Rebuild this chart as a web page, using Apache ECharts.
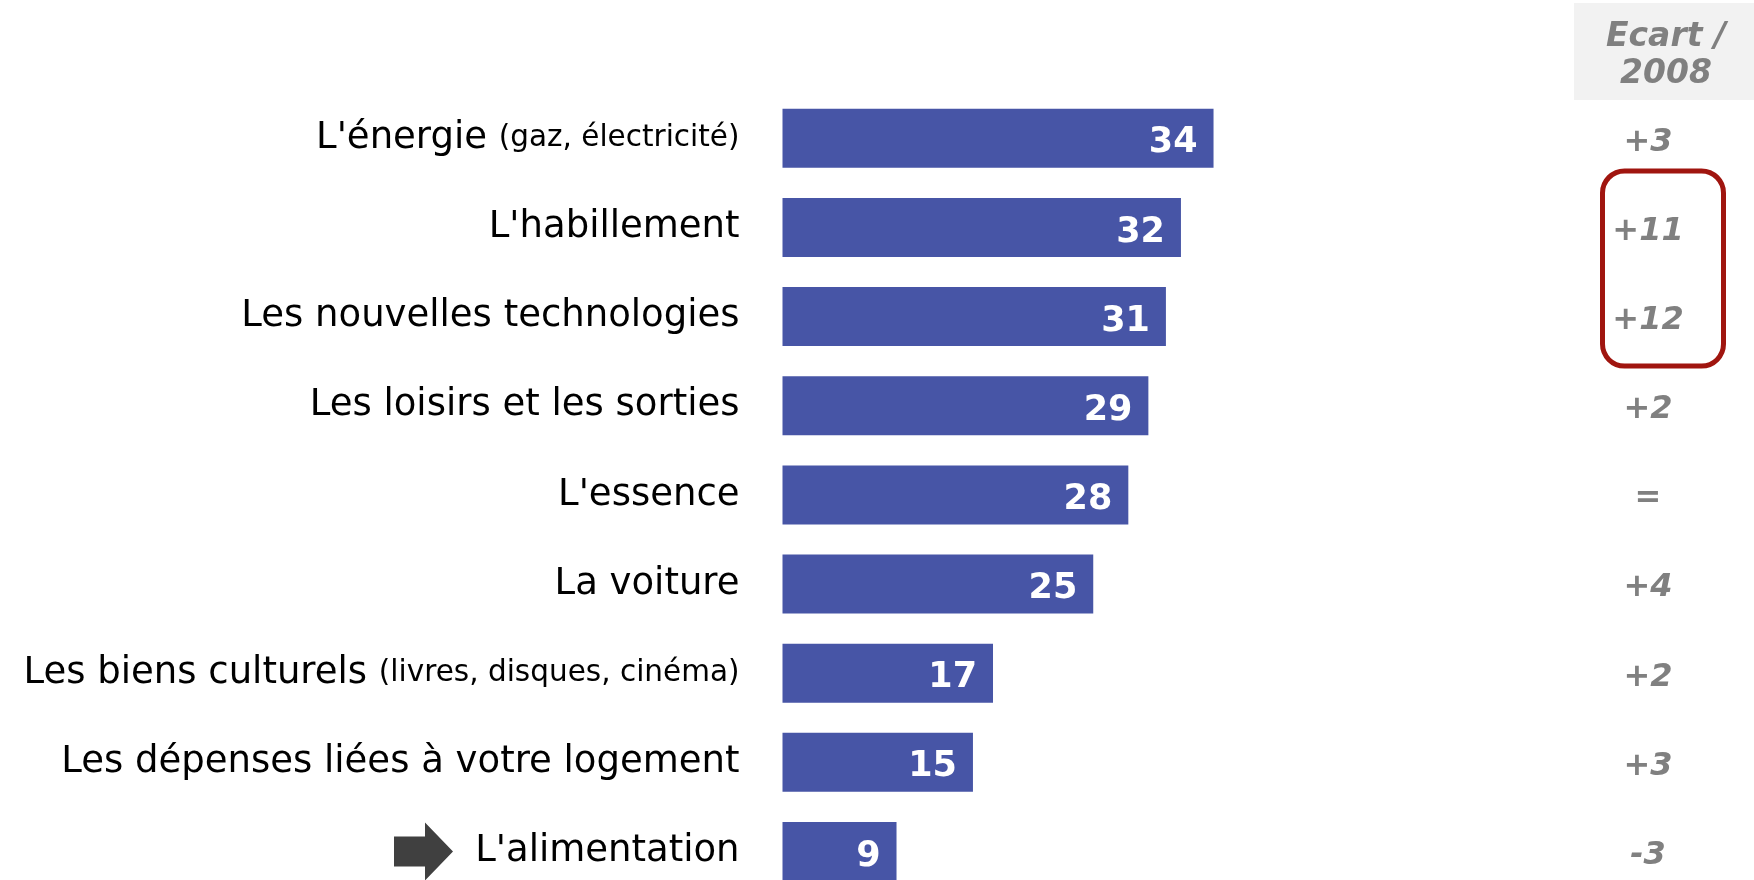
<!DOCTYPE html>
<html>
<head>
<meta charset="utf-8">
<script src="https://cdn.jsdelivr.net/npm/echarts@6/dist/echarts.min.js"></script>
<style>
html,body{margin:0;padding:0;background:#fff;overflow:hidden;width:1754px;height:880px;}
#chart{width:1754px;height:900px;}
</style>
</head>
<body>
<div id="chart"></div>
<script>
const categories = ["L'énergie", "L'habillement", "Les nouvelles technologies", "Les loisirs et les sorties", "L'essence", "La voiture", "Les biens culturels", "Les dépenses liées à votre logement", "L'alimentation"];
const subLabels = ["(gaz, électricité)", "", "", "", "", "", "(livres, disques, cinéma)", "", ""];
const values = [34.4, 31.8, 30.6, 29.2, 27.6, 24.8, 16.8, 15.2, 9.1];
const ecart = ["+3", "+11", "+12", "+2", "=", "+4", "+2", "+3", "-3"];
const ecartHeader = "Ecart /\n2008";
const highlighted = [1, 2];   // indices framed in red
const arrowIndex = 8;         // index pointed to by arrow

const chart = echarts.init(document.getElementById('chart'));
const font = "'DejaVu Sans', Verdana, sans-serif";

chart.setOption({
  animation: false,
  grid: { left: 782.5, top: 93.7, width: 626.5, height: 802.4, containLabel: false },
  xAxis: { type: 'value', min: 0, max: 50, show: false },
  yAxis: [
    {
      type: 'category', data: categories, inverse: true,
      axisLine: { show: false }, axisTick: { show: false }, splitLine: { show: false },
      axisLabel: {
        margin: 43,
        fontFamily: font, fontSize: 37, color: '#000',
        formatter: function (v, i) {
          return subLabels[i] ? v + ' {s|' + subLabels[i] + '}' : v;
        },
        rich: { s: { fontFamily: font, fontSize: 29.5, color: '#000' } }
      }
    },
    {
      type: 'category', data: ecart, inverse: true, position: 'right',
      axisLine: { show: false }, axisTick: { show: false }, splitLine: { show: false },
      axisLabel: {
        margin: 239, align: 'center',
        formatter: function (v) { return '{e|' + v + '}'; },
        rich: {
          e: { padding: [8, 0, 0, 0], fontFamily: font, fontSize: 32, fontWeight: 'bold', fontStyle: 'italic', color: '#808080' }
        }
      }
    }
  ],
  series: [{
    type: 'bar', data: values, yAxisIndex: 0, barWidth: 59,
    itemStyle: { color: '#4755a6' },
    label: {
      show: true, position: 'insideRight', distance: 16, offset: [0, 5],
      color: '#fff', fontFamily: font, fontSize: 35, fontWeight: 'bold',
      formatter: function (p) { return Math.round(p.value); }
    }
  }]
});

function addGraphics() {
  const y1 = chart.convertToPixel({ yAxisIndex: 0 }, categories[highlighted[0]]);
  const y2 = chart.convertToPixel({ yAxisIndex: 0 }, categories[highlighted[highlighted.length - 1]]);
  const ya = chart.convertToPixel({ yAxisIndex: 0 }, categories[arrowIndex]);
  chart.setOption({ graphic: [
    {
      type: 'rect', shape: { x: 1574, y: 3, width: 180, height: 97 },
      style: { fill: '#f2f2f2' }, z: 1
    },
    {
      type: 'text', x: 1666, y: 56, z: 2,
      style: {
        text: ecartHeader, x: 0, y: 0, align: 'center', verticalAlign: 'middle',
        font: "italic bold 33px 'DejaVu Sans', Verdana, sans-serif", fill: '#808080', lineHeight: 37
      }
    },
    {
      type: 'rect', z: 2,
      shape: { x: 1602.5, y: y1 - 56.5, width: 121, height: (y2 - y1) + 56.5 + 49.5, r: 22 },
      style: { fill: 'none', stroke: '#a0150f', lineWidth: 5 }
    },
    {
      type: 'polygon', z: 2,
      shape: { points: [[394, ya - 15], [425, ya - 15], [425, ya - 29], [453, ya], [425, ya + 29], [425, ya + 15], [394, ya + 15]] },
      style: { fill: '#404040' }
    }
  ]});
}
addGraphics();
</script>
</body>
</html>
